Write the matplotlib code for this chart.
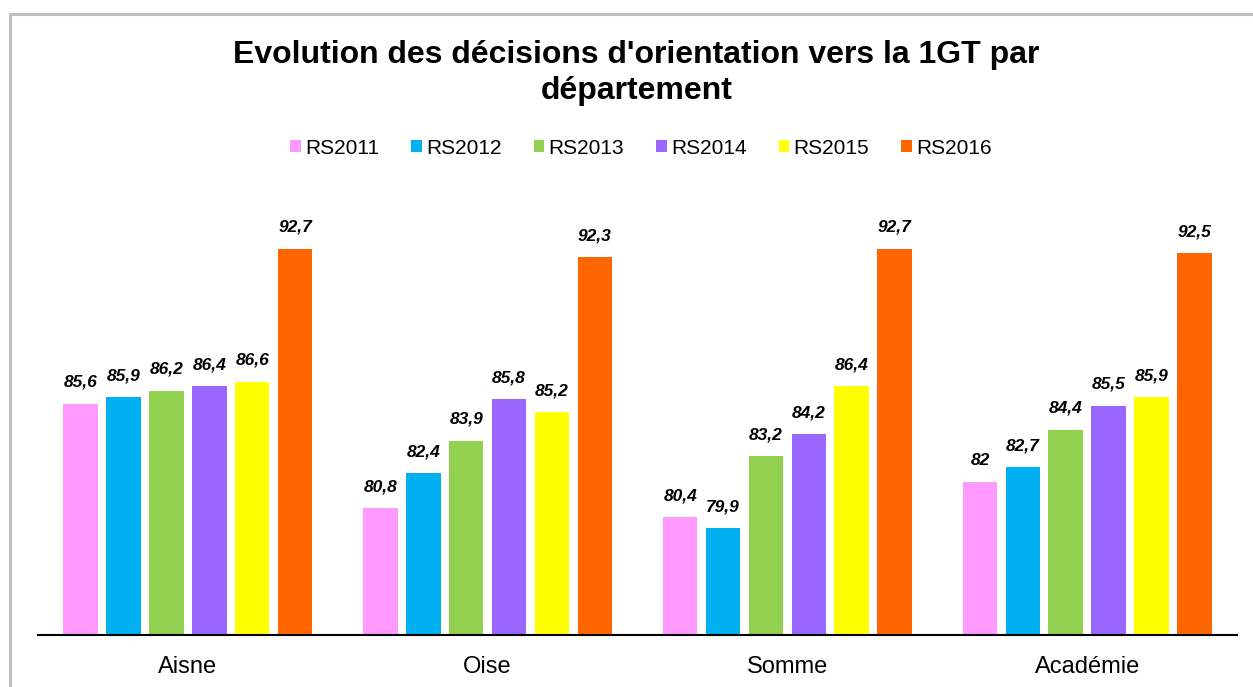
import matplotlib.pyplot as plt
import numpy as np
from matplotlib.patches import Patch, Rectangle

plt.rcParams['font.family'] = ['Liberation Sans', 'DejaVu Sans']

departements = ['Aisne', 'Oise', 'Somme', 'Académie']
series = ['RS2011', 'RS2012', 'RS2013', 'RS2014', 'RS2015', 'RS2016']
rs2011 = [85.6, 80.8, 80.4, 82]
rs2012 = [85.9, 82.4, 79.9, 82.7]
rs2013 = [86.2, 83.9, 83.2, 84.4]
rs2014 = [86.4, 85.8, 84.2, 85.5]
rs2015 = [86.6, 85.2, 86.4, 85.9]
rs2016 = [92.7, 92.3, 92.7, 92.5]
values = [rs2011, rs2012, rs2013, rs2014, rs2015, rs2016]
colors = ['#FF99FF', '#00B0F0', '#92D050', '#9966FF', '#FFFF00', '#FF6600']

fig = plt.figure(figsize=(12.53, 6.87), dpi=100)
ax = fig.add_axes([38/1253, 52/687, 1199/1253, 436.6/687])

# outer chart border
fig.patches.append(Rectangle((10/1253, -0.1), 1.2, 1 - 14/687 + 0.1, transform=fig.transFigure,
                             fill=False, edgecolor='#BFBFBF', linewidth=2.2))

x = np.arange(len(departements))
step = 0.143
width = 0.115
for i, (vals, col) in enumerate(zip(values, colors)):
    pos = x + (i - 2.5) * step
    bars = ax.bar(pos, vals, width=width, color=col, label=series[i], zorder=2)
    for b, v in zip(bars, vals):
        txt = ('%g' % v).replace('.', ',')
        ax.annotate(txt, (b.get_x() + b.get_width() / 2, v), xytext=(0, 10),
                    textcoords='offset points', ha='center', va='bottom',
                    fontsize=12.5, fontweight='bold', fontstyle='italic')

ax.set_ylim(75, 95)
ax.set_xlim(-0.5, 3.5)
ax.set_xticks(x)
ax.set_xticklabels(departements, fontsize=17)
ax.tick_params(axis='x', length=0, pad=15)
ax.set_yticks([])
for s in ['left', 'right', 'top']:
    ax.spines[s].set_visible(False)
ax.spines['bottom'].set_linewidth(1.5)

fig.text(0.508, 1 - 73/687, "Evolution des décisions d'orientation vers la 1GT par\ndépartement",
         ha='center', va='center', fontsize=23, fontweight='bold', linespacing=1.25)

handles = [Patch(facecolor=c, label=s) for c, s in zip(colors, series)]
fig.legend(handles=handles, loc='center', bbox_to_anchor=(641/1253, 1 - 148/687), ncol=6,
           frameon=False, fontsize=15, handlelength=0.5, handleheight=0.5,
           handletextpad=0.2, columnspacing=1.55)

fig.savefig('out.png', dpi=100)
